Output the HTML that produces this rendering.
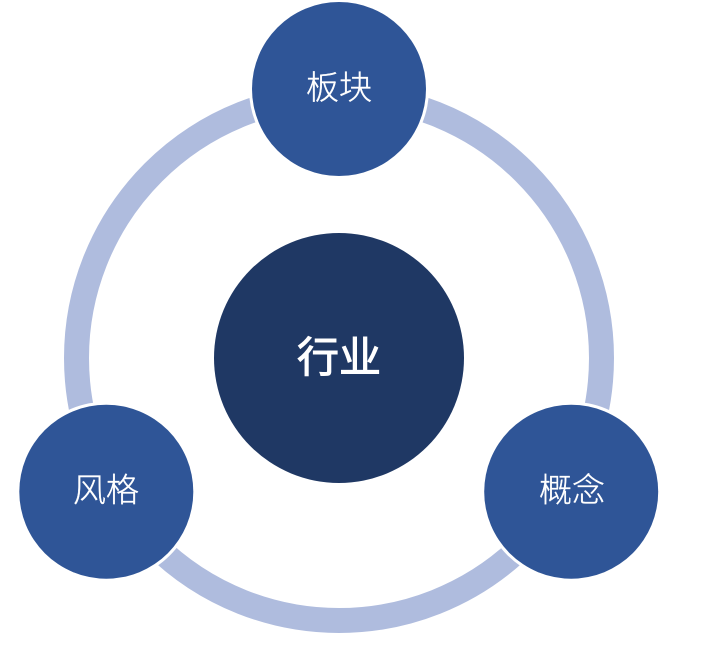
<!DOCTYPE html>
<html>
<head>
<meta charset="utf-8">
<style>
html,body{margin:0;padding:0;background:#fff;}
svg{display:block;}
text{font-family:"Liberation Sans","Noto Sans CJK SC",sans-serif;fill:#fff;text-anchor:middle;}
</style>
</head>
<body>
<svg width="710" height="647" viewBox="0 0 710 647" xmlns="http://www.w3.org/2000/svg">
<circle cx="339" cy="358" r="262.5" fill="none" stroke="#afbcde" stroke-width="25"/>
<circle cx="339" cy="358" r="125" fill="#1f3864"/>
<circle cx="339" cy="89" r="90" fill="#fff"/>
<circle cx="106.300" cy="491.700" r="90" fill="#fff"/>
<circle cx="571.200" cy="491.700" r="90" fill="#fff"/>
<circle cx="339" cy="89" r="87" fill="#2f5597"/>
<circle cx="106.300" cy="491.700" r="87" fill="#2f5597"/>
<circle cx="571.200" cy="491.700" r="87" fill="#2f5597"/>
<text x="339" y="372" font-size="42" stroke="#fff" stroke-width="1">行业</text>
<text x="339" y="99" font-size="33" font-weight="300" stroke="#fff" stroke-width="0.35">板块</text>
<text x="106" y="501.500" font-size="33" font-weight="300" stroke="#fff" stroke-width="0.35">风格</text>
<text x="572" y="501.500" font-size="33" font-weight="300" stroke="#fff" stroke-width="0.35">概念</text>
</svg>
</body>
</html>
